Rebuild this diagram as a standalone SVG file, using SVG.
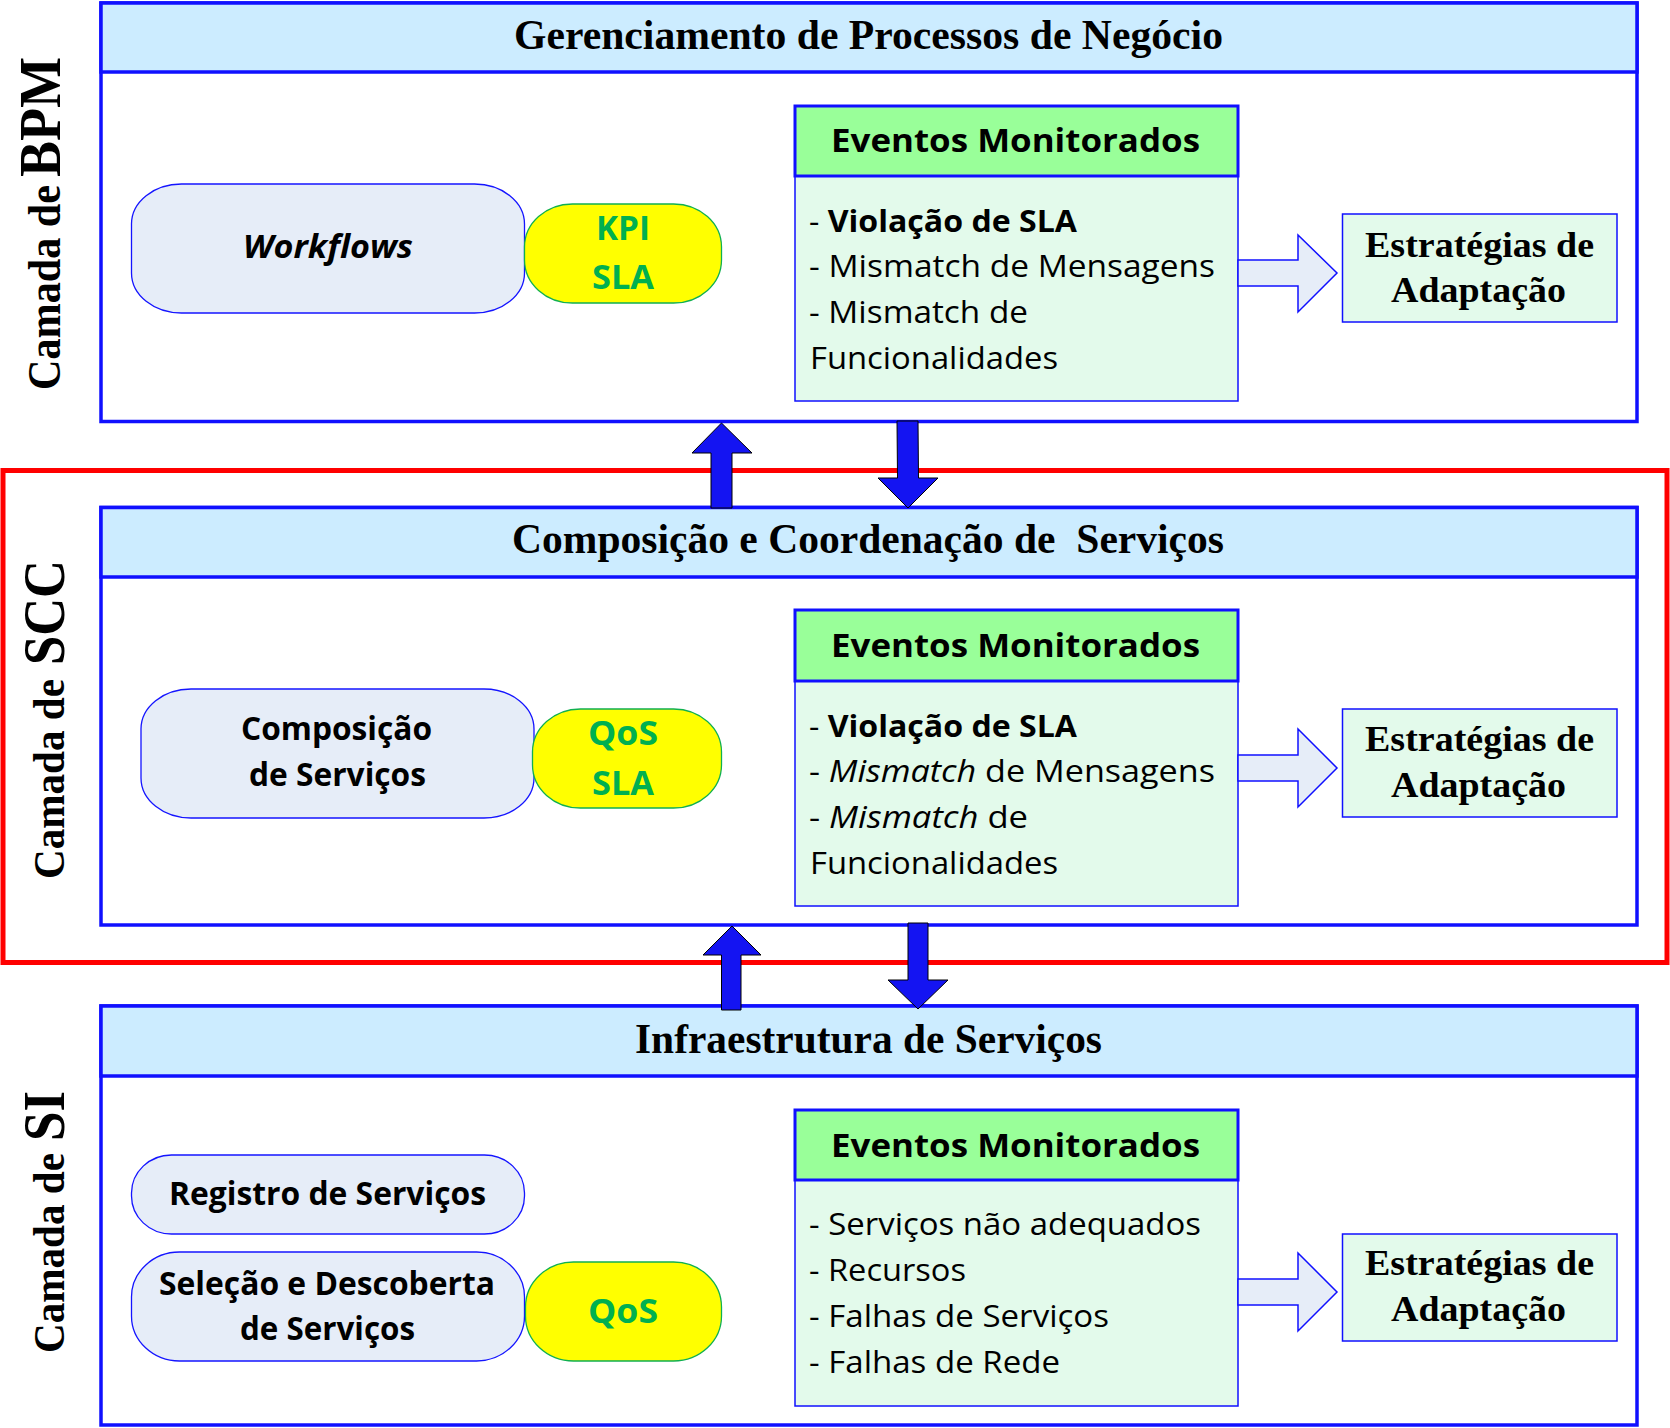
<svg xmlns="http://www.w3.org/2000/svg" width="1670" height="1428" viewBox="0 0 1670 1428">
<style>
.layer{fill:#FFFFFF;stroke:#1010FF;stroke-width:3.5}
.hdr{fill:#CCECFF;stroke:#1010FF;stroke-width:3.5}
.htxt{font-family:"Liberation Serif",serif;font-weight:bold;font-size:43px;fill:#000}
.side{font-family:"Liberation Serif",serif;font-weight:bold;fill:#000}
.pill{fill:#E6EDF8;stroke:#1414FF;stroke-width:1.3}
.ptxt{font-family:"Open Sans",sans-serif;font-weight:bold;font-size:32px;fill:#000}
.yel{fill:#FFFF00;stroke:#10B050;stroke-width:1.3}
.gtxt{font-family:"Open Sans",sans-serif;font-weight:bold;font-size:34px;fill:#00B050}
.ehdr{fill:#99FF99;stroke:#1010FF;stroke-width:3}
.ebody{fill:#E3FAEB;stroke:#1010FF;stroke-width:1.5}
.ehtxt{font-family:"Open Sans",sans-serif;font-weight:bold;font-size:33px;fill:#000}
.etxt{font-family:"Open Sans",sans-serif;font-size:31px;fill:#000}
.strat{fill:#E3FAEB;stroke:#1010FF;stroke-width:1.5}
.stxt{font-family:"Liberation Serif",serif;font-weight:bold;font-size:36px;fill:#000}
.hollow{fill:#E6EDF8;stroke:#1010FF;stroke-width:1.5}
.block{fill:#1414F2;stroke:#000;stroke-width:1}
</style>

<g id="scc-frame">
<rect x="3" y="470.5" width="1664" height="492" fill="none" stroke="#FF0000" stroke-width="5"/>
</g>

<!-- BPM layer -->
<g id="bpm-layer">
<rect class="layer" x="101" y="3" width="1536" height="418.5"/>
<rect class="hdr" x="101" y="3" width="1536" height="69"/>
<text class="htxt" x="514" y="49" textLength="709" lengthAdjust="spacingAndGlyphs">Gerenciamento de Processos de Negócio</text>
</g>
<g id="bpm-label">
<text class="side" font-size="47" transform="translate(60,390) rotate(-90)" textLength="205" lengthAdjust="spacingAndGlyphs">Camada de</text>
<text class="side" font-size="59" transform="translate(60,177) rotate(-90)" textLength="120" lengthAdjust="spacingAndGlyphs">BPM</text>
</g>
<g id="bpm-workflows">
<rect class="pill" x="131.5" y="184" width="393" height="129" rx="50" ry="40"/>
<text class="ptxt" font-style="italic" x="243" y="258" textLength="170" lengthAdjust="spacingAndGlyphs">Workflows</text>
</g>
<g id="bpm-kpi">
<rect class="yel" x="524.5" y="204" width="197" height="99" rx="48" ry="43"/>
<text class="gtxt" x="596" y="240" textLength="54" lengthAdjust="spacingAndGlyphs">KPI</text>
<text class="gtxt" x="592" y="289" textLength="62" lengthAdjust="spacingAndGlyphs">SLA</text>
</g>
<g id="bpm-eventos">
<rect class="ebody" x="795" y="176" width="443" height="225"/>
<rect class="ehdr" x="795" y="106" width="443" height="70"/>
<text class="ehtxt" x="831" y="152" textLength="369" lengthAdjust="spacingAndGlyphs">Eventos Monitorados</text>
<text class="etxt" x="809" y="232" textLength="268" lengthAdjust="spacingAndGlyphs">- <tspan font-weight="bold">Violação de SLA</tspan></text>
<text class="etxt" x="809" y="277" textLength="406" lengthAdjust="spacingAndGlyphs">- Mismatch de Mensagens</text>
<text class="etxt" x="809" y="323" textLength="219" lengthAdjust="spacingAndGlyphs">- Mismatch de</text>
<text class="etxt" x="810" y="369" textLength="248" lengthAdjust="spacingAndGlyphs">Funcionalidades</text>
</g>
<g id="bpm-estrategias">
<rect class="strat" x="1342.5" y="214" width="274.5" height="108"/>
<text class="stxt" x="1365" y="257" textLength="229" lengthAdjust="spacingAndGlyphs">Estratégias de</text>
<text class="stxt" x="1391" y="302" textLength="175" lengthAdjust="spacingAndGlyphs">Adaptação</text>
</g>

<!-- SCC layer -->
<g id="scc-layer">
<rect class="layer" x="101" y="507.5" width="1536" height="417.5"/>
<rect class="hdr" x="101" y="507.5" width="1536" height="69.5"/>
<text class="htxt" x="512" y="553" textLength="712" lengthAdjust="spacingAndGlyphs" xml:space="preserve">Composição e Coordenação de  Serviços</text>
</g>
<g id="scc-label">
<text class="side" font-size="45" transform="translate(64,879) rotate(-90)" textLength="200" lengthAdjust="spacingAndGlyphs">Camada de</text>
<text class="side" font-size="60" transform="translate(64,665) rotate(-90)" textLength="105" lengthAdjust="spacingAndGlyphs">SCC</text>
</g>
<g id="scc-composicao">
<rect class="pill" x="141" y="689" width="393" height="129" rx="50" ry="40"/>
<text class="ptxt" x="241" y="740" textLength="191" lengthAdjust="spacingAndGlyphs">Composição</text>
<text class="ptxt" x="249" y="786" textLength="177" lengthAdjust="spacingAndGlyphs">de Serviços</text>
</g>
<g id="scc-qos">
<rect class="yel" x="532.5" y="709" width="189" height="99" rx="48" ry="43"/>
<text class="gtxt" x="588" y="745" textLength="70" lengthAdjust="spacingAndGlyphs">QoS</text>
<text class="gtxt" x="592" y="795" textLength="62" lengthAdjust="spacingAndGlyphs">SLA</text>
</g>
<g id="scc-eventos">
<rect class="ebody" x="795" y="681" width="443" height="225"/>
<rect class="ehdr" x="795" y="610" width="443" height="71"/>
<text class="ehtxt" x="831" y="657" textLength="369" lengthAdjust="spacingAndGlyphs">Eventos Monitorados</text>
<text class="etxt" x="809" y="737" textLength="268" lengthAdjust="spacingAndGlyphs">- <tspan font-weight="bold">Violação de SLA</tspan></text>
<text class="etxt" x="809" y="782" textLength="406" lengthAdjust="spacingAndGlyphs">- <tspan font-style="italic">Mismatch</tspan> de Mensagens</text>
<text class="etxt" x="809" y="828" textLength="219" lengthAdjust="spacingAndGlyphs">- <tspan font-style="italic">Mismatch</tspan> de</text>
<text class="etxt" x="810" y="874" textLength="248" lengthAdjust="spacingAndGlyphs">Funcionalidades</text>
</g>
<g id="scc-estrategias">
<rect class="strat" x="1342.5" y="709" width="274.5" height="108"/>
<text class="stxt" x="1365" y="751" textLength="229" lengthAdjust="spacingAndGlyphs">Estratégias de</text>
<text class="stxt" x="1391" y="797" textLength="175" lengthAdjust="spacingAndGlyphs">Adaptação</text>
</g>

<!-- SI layer -->
<g id="si-layer">
<rect class="layer" x="101" y="1006" width="1536" height="419"/>
<rect class="hdr" x="101" y="1006" width="1536" height="70"/>
<text class="htxt" x="635" y="1053" textLength="467" lengthAdjust="spacingAndGlyphs">Infraestrutura de Serviços</text>
</g>
<g id="si-label">
<text class="side" font-size="45" transform="translate(64,1353) rotate(-90)" textLength="200" lengthAdjust="spacingAndGlyphs">Camada de</text>
<text class="side" font-size="60" transform="translate(64,1141) rotate(-90)" textLength="50" lengthAdjust="spacingAndGlyphs">SI</text>
</g>
<g id="si-registro">
<rect class="pill" x="131.5" y="1155" width="393" height="79" rx="40" ry="38"/>
<text class="ptxt" x="169" y="1205" textLength="317" lengthAdjust="spacingAndGlyphs">Registro de Serviços</text>
</g>
<g id="si-selecao">
<rect class="pill" x="131.5" y="1252" width="393" height="109" rx="48" ry="45"/>
<text class="ptxt" x="159" y="1295" textLength="336" lengthAdjust="spacingAndGlyphs">Seleção e Descoberta</text>
<text class="ptxt" x="240" y="1340" textLength="175" lengthAdjust="spacingAndGlyphs">de Serviços</text>
</g>
<g id="si-qos">
<rect class="yel" x="525.5" y="1262" width="196" height="99" rx="48" ry="45"/>
<text class="gtxt" x="588" y="1323" textLength="70" lengthAdjust="spacingAndGlyphs">QoS</text>
</g>
<g id="si-eventos">
<rect class="ebody" x="795" y="1180" width="443" height="226"/>
<rect class="ehdr" x="795" y="1110" width="443" height="70"/>
<text class="ehtxt" x="831" y="1157" textLength="369" lengthAdjust="spacingAndGlyphs">Eventos Monitorados</text>
<text class="etxt" x="809" y="1235" textLength="392" lengthAdjust="spacingAndGlyphs">- Serviços não adequados</text>
<text class="etxt" x="809" y="1281" textLength="157" lengthAdjust="spacingAndGlyphs">- Recursos</text>
<text class="etxt" x="809" y="1327" textLength="300" lengthAdjust="spacingAndGlyphs">- Falhas de Serviços</text>
<text class="etxt" x="809" y="1373" textLength="251" lengthAdjust="spacingAndGlyphs">- Falhas de Rede</text>
</g>
<g id="si-estrategias">
<rect class="strat" x="1342.5" y="1234" width="274.5" height="107"/>
<text class="stxt" x="1365" y="1275" textLength="229" lengthAdjust="spacingAndGlyphs">Estratégias de</text>
<text class="stxt" x="1391" y="1321" textLength="175" lengthAdjust="spacingAndGlyphs">Adaptação</text>
</g>

<!-- connectors -->
<g id="connectors">
<polygon class="hollow" points="1238,260 1298,260 1298,235 1337,273 1298,312 1298,286 1238,286"/>
<polygon class="hollow" points="1238,755 1298,755 1298,729 1337,768 1298,807 1298,781 1238,781"/>
<polygon class="hollow" points="1238,1279 1298,1279 1298,1253 1337,1292 1298,1331 1298,1305 1238,1305"/>
<polygon class="block" points="711,508 711,453 692,453 721.5,423 752,453 732,453 732,508"/>
<polygon class="block" points="897,421 918,421 918.5,478 938,478 908,508 878,478 897.5,478"/>
<polygon class="block" points="721.5,1010 721.5,955 703,955 732,926 761,955 741,955 741,1010"/>
<polygon class="block" points="908,923 928,923 928,980 948,980 918,1009 888,980 908,980"/>
</g>
</svg>
